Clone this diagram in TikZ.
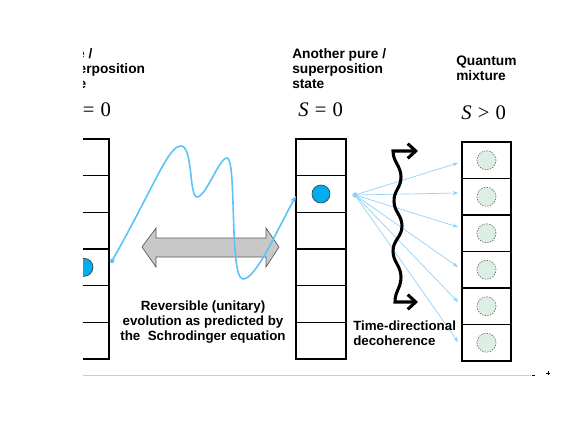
\documentclass[tikz,border=0pt]{standalone}
\usepackage{fontspec}
\setmainfont{Liberation Sans}
\newfontfamily\serifmath{Liberation Serif}
\usetikzlibrary{arrows.meta}
\definecolor{curveblue}{HTML}{5CC3F7}
\definecolor{dotblue}{HTML}{00AEEF}
\definecolor{fanblue}{HTML}{8FD0FA}
\definecolor{mint}{HTML}{DDEFE5}
\definecolor{arrowgray}{HTML}{C8C8C8}
\definecolor{axisgray}{HTML}{CCCCCC}
\tikzset{
  cell/.style={draw, line width=1pt, minimum width=37.5pt, minimum height=27.5pt, inner sep=0pt, outer sep=0pt},
  rcell/.style={cell, minimum width=36.75pt, minimum height=27.4pt},
  bluedot/.style={circle, draw=black!75, line width=0.5pt, fill=dotblue, minimum size=13.5pt, inner sep=0pt},
  mixdot/.style={circle, draw=black!60, dashed, dash pattern=on 1pt off 1pt, line width=0.5pt, fill=mint, minimum size=14.25pt, inner sep=0pt},
  smalldot/.style={circle, fill=curveblue, minimum size=3.5pt, inner sep=0pt},
  fandot/.style={circle, fill=fanblue, minimum size=4pt, inner sep=0pt},
  header/.style={font=\bfseries\fontsize{10.3}{10.9}\selectfont, align=left, anchor=base west, inner sep=0pt},
  caption/.style={font=\bfseries\fontsize{10}{11.25}\selectfont, inner sep=0pt, anchor=base},
  entropy/.style={font=\serifmath\fontsize{15.5}{18}\selectfont, anchor=base west, inner sep=0pt},
  curve/.style={draw=curveblue, line width=1.2pt, -{Stealth[length=5pt,width=4pt]}},
  fan/.style={draw=fanblue, line width=0.5pt, -{Stealth[length=4pt,width=3pt]}},
  wave/.style={line width=2.3pt, {Straight Barb[length=6pt,width=11pt]}-{Straight Barb[length=6pt,width=11pt]}, line join=miter},
  grayarrow/.style={fill=arrowgray, draw=black!65, line width=0.5pt}
}
\begin{document}
\begin{tikzpicture}[x=0.75pt,y=-0.75pt]
\useasboundingbox (0,0) rectangle (586,439);
\fill[white] (0,0) rectangle (586,439);
\begin{scope}
\clip (83,0) rectangle (586,439);
% headers (anchor is the baseline of the last line)
\node[header] (hl) at (54,88) {Pure /\\superposition\\state};
\node[header] (hm) at (292,88) {Another pure /\\superposition\\state};
\node[header] (hr) at (456,80.5) {Quantum\\mixture};
\node[entropy] (sl) at (66,116) {\itshape S\upshape\hspace{0.3em}=\hspace{0.3em}0};
\node[entropy] (sm) at (298,116) {\itshape S\upshape\hspace{0.3em}=\hspace{0.3em}0};
\node[entropy] (sr) at (461,119) {\itshape S\upshape\hspace{0.3em}>\hspace{0.3em}0};
% columns
\foreach \i in {1,...,6}{
  \pgfmathsetmacro{\yy}{139+36.667*(\i-0.5)}
  \pgfmathsetmacro{\ry}{142+36.5*(\i-0.5)}
  \node[cell] (l\i) at (84,\yy) {};
  \node[cell] (m\i) at (321,\yy) {};
  \node[rcell] (r\i) at (486.5,\ry) {};
  \node[mixdot] (q\i) at (r\i) {};
}
\node[bluedot] (lc) at (l4) {};
\node[bluedot] (mc) at (m2) {};
% gray double arrow
\path[grayarrow] (142,247) -- (156,228) -- (156,238) -- (266,238) -- (266,228) -- (279,247) -- (266,267) -- (266,257) -- (156,257) -- (156,267) -- cycle;
% blue evolution curve
\node[smalldot] (cs) at (112,261) {};
\coordinate (ce) at (296,196);
\draw[curve] (cs.center) .. controls (155,185) and (168,146) .. (181,146)
  .. controls (193,146) and (189,197) .. (197,197)
  .. controls (206,197) and (219,158) .. (227,158)
  .. controls (237,158) and (229,279) .. (243,279)
  .. controls (256,279) and (276,232) .. (ce);
% decoherence fan
\node[fandot] (fo) at (355,195) {};
\coordinate (e1) at (458,163);
\coordinate (e2) at (458,193);
\coordinate (e3) at (458,227);
\coordinate (e4) at (458,267);
\coordinate (e5) at (458,302);
\coordinate (e6) at (458,342);
\foreach \i in {1,...,6}{\draw[fan] (fo.center) -- (e\i);}
% time-directional wave
\coordinate (wt) at (418,151);
\coordinate (wb) at (418,302);
\draw[wave] (wt) -- (393,151)
  .. controls (393,162) and (401,166) .. (401,177)
  .. controls (401,188) and (394,190) .. (394,201)
  .. controls (394,212) and (402,215) .. (402,226)
  .. controls (402,237) and (393,240) .. (393,251)
  .. controls (393,262) and (401,266) .. (401,277)
  .. controls (401,288) and (395,291) .. (395,302) -- (wb);
% captions
\node[caption] (c1) at (203,310) {Reversible (unitary)};
\node[caption] (c2) at (203,325) {evolution as predicted by};
\node[caption] (c3) at (203,340) {the\ \ Schrodinger equation};
\node[header, font=\bfseries\fontsize{10}{11.25}\selectfont] (td) at (353,345) {Time-directional\\decoherence};
% axis line
\coordinate (a0) at (83,375);
\coordinate (a1) at (531,375);
\draw[axisgray, line width=0.6pt] (a0) -- (a1);
\draw[line width=0.7pt] (532,375.5) -- (535,375.5);
\draw[line width=0.6pt] (546,373) -- (550,373) (548,371) -- (548,375);
\end{scope}
\end{tikzpicture}
\end{document}
